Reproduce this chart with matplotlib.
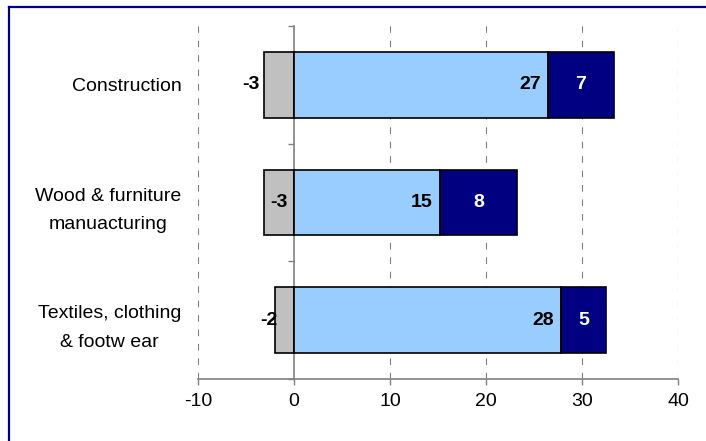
import matplotlib
matplotlib.use("Agg")
import matplotlib.pyplot as plt
from matplotlib.lines import Line2D

plt.rcParams["font.family"] = ["Liberation Sans", "DejaVu Sans"]

# data
categories = ["Construction", "Wood & furniture\nmanuacturing", "Textiles, clothing\n& footw ear"]
neg_vals = [-3.1, -3.1, -2.0]
mid_vals = [26.5, 15.2, 27.8]
top_vals = [6.8, 8.0, 4.7]
neg_labels = ["-3", "-3", "-2"]
mid_labels = ["27", "15", "28"]
top_labels = ["7", "8", "5"]
xticks = [-10, 0, 10, 20, 30, 40]

# label nudges for the grey segment (points), the way the source placed them
neg_label_shift = [-20, 0, -11]

fig = plt.figure(figsize=(7.06, 4.41), dpi=100)
ax = fig.add_axes([0.2805, 0.1406, 0.6798, 0.8004])

ypos = list(range(len(categories)))
h = 0.56
ax.barh(ypos, neg_vals, height=h, color="#C0C0C0", edgecolor="black", linewidth=1.2, zorder=3)
ax.barh(ypos, mid_vals, height=h, color="#99CCFF", edgecolor="black", linewidth=1.2, zorder=3)
ax.barh(ypos, top_vals, left=mid_vals, height=h, color="#000080", edgecolor="black", linewidth=1.2, zorder=3)

for i in ypos:
    ax.annotate(neg_labels[i], (neg_vals[i] / 2, i), xytext=(neg_label_shift[i], 0),
                textcoords="offset points", ha="center", va="center",
                fontsize=14, fontweight="bold", color="black", zorder=5)
    ax.annotate(mid_labels[i], (mid_vals[i], i), xytext=(-5, 0),
                textcoords="offset points", ha="right", va="center",
                fontsize=14, fontweight="bold", color="black", zorder=5)
    ax.text(mid_vals[i] + top_vals[i] / 2, i, top_labels[i], ha="center", va="center",
            fontsize=14, fontweight="bold", color="white", zorder=5)

ax.set_xlim(-10, 40)
ax.set_ylim(2.5, -0.5)
ax.set_xticks(xticks)
ax.set_xticklabels([str(t) for t in xticks], fontsize=14)
ax.tick_params(axis="x", direction="out", length=4, width=1, color="#808080", pad=6)

# vertical dashed gridlines (not at zero, the axis is drawn there)
for t in xticks:
    if t != 0:
        ax.axvline(t, color="#808080", linewidth=0.8, linestyle=(0, (6, 7)), zorder=1)

ax.set_yticks(ypos)
ax.set_yticklabels(categories, fontsize=14)
ax.tick_params(axis="y", length=0, pad=12)
for lbl in ax.get_yticklabels():
    lbl.set_multialignment("center")
    lbl.set_linespacing(1.9)

for s in ["top", "right", "left"]:
    ax.spines[s].set_visible(False)
ax.spines["bottom"].set_color("#808080")
ax.spines["bottom"].set_linewidth(1.2)

# value axis at zero with ticks between the categories
sec = ax.secondary_yaxis(0, transform=ax.transData)
sec.set_yticks([-0.5, 0.5, 1.5, 2.5])
sec.set_yticklabels([])
sec.tick_params(direction="out", length=4, width=1, color="#808080")
sec.spines["left"].set_color("#808080")
sec.spines["left"].set_linewidth(1.2)

# outer chart frame (only the top and left edges show in the crop)
fig.add_artist(Line2D([0.013, 0.013], [0.0, 0.983], transform=fig.transFigure,
                      color="#000080", linewidth=1.6))
fig.add_artist(Line2D([0.013, 1.0], [0.983, 0.983], transform=fig.transFigure,
                      color="#000080", linewidth=1.6))

fig.savefig("out.png", dpi=100)
